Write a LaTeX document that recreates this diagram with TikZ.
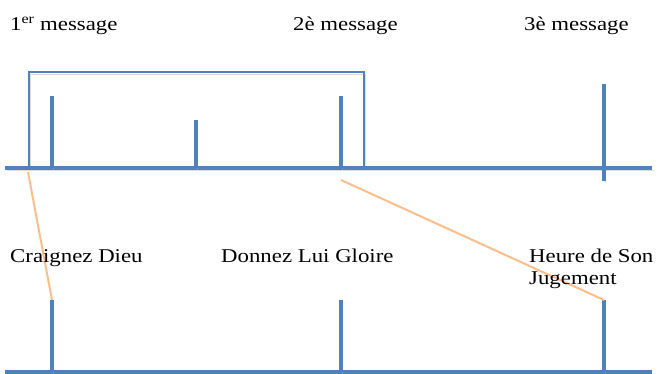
\documentclass[tikz,border=0pt]{standalone}
\usepackage{fontspec}
\setmainfont{Liberation Serif}[FakeStretch=1.17]
\definecolor{tlblue}{RGB}{79,129,189}
\definecolor{tlorange}{RGB}{250,190,140}
\begin{document}
\begin{tikzpicture}[x=1pt,y=-1pt,
  shad/.style={preaction={draw=black!30,opacity=0.45,transform canvas={shift={(1.6pt,-2pt)}}}},
  axis/.style={draw=tlblue,line width=4pt,shad},
  tick/.style={draw=tlblue,line width=3.6pt,shad},
  brack/.style={draw=tlblue,line width=2.8pt,shad},
  link/.style={draw=tlorange,line width=2pt},
  lbl/.style={anchor=base west,inner sep=0pt,font=\fontsize{19.5}{22}\selectfont}]
\useasboundingbox (0,0) rectangle (659,374);
% coordinates
\coordinate (tL) at (5,168);   \coordinate (tR) at (652,168);
\coordinate (bL) at (5,372);   \coordinate (bR) at (652,372);
\coordinate (k1a) at (52,96);  \coordinate (k1b) at (52,168);
\coordinate (k2a) at (196,120);\coordinate (k2b) at (196,168);
\coordinate (k3a) at (341,96); \coordinate (k3b) at (341,168);
\coordinate (k4a) at (604,84); \coordinate (k4b) at (604,181);
\coordinate (m1a) at (52,300); \coordinate (m1b) at (52,372);
\coordinate (m2a) at (341,300);\coordinate (m2b) at (341,372);
\coordinate (m3a) at (604,300);\coordinate (m3b) at (604,372);
\coordinate (o1) at (28,172);  \coordinate (o2) at (341,180);
% top timeline
\draw[brack] (29,168) -- (29,72) -- (364,72) -- (364,168);
\draw[axis] (tL) -- (tR);
\draw[tick] (k1a) -- (k1b);
\draw[tick] (k2a) -- (k2b);
\draw[tick] (k3a) -- (k3b);
\draw[tick] (k4a) -- (k4b);
% bottom timeline
\draw[axis] (bL) -- (bR);
\draw[tick] (m1a) -- (m1b);
\draw[tick] (m2a) -- (m2b);
\draw[tick] (m3a) -- (m3b);
% links
\draw[link] (o1) -- (m1a);
\draw[link] (o2) -- (m3a);
% labels
\node[lbl] (t1) at (10,31) {1\textsuperscript{er} message};
\node[lbl] (t2) at (293,31) {2è message};
\node[lbl] (t3) at (524,31) {3è message};
\node[lbl] (l1) at (10,262) {Craignez Dieu};
\node[lbl] (l2) at (221,262) {Donnez Lui Gloire};
\node[lbl] (l3) at (529,262) {Heure de Son};
\node[lbl] (l4) at (529,285) {Jugement};
\end{tikzpicture}
\end{document}
